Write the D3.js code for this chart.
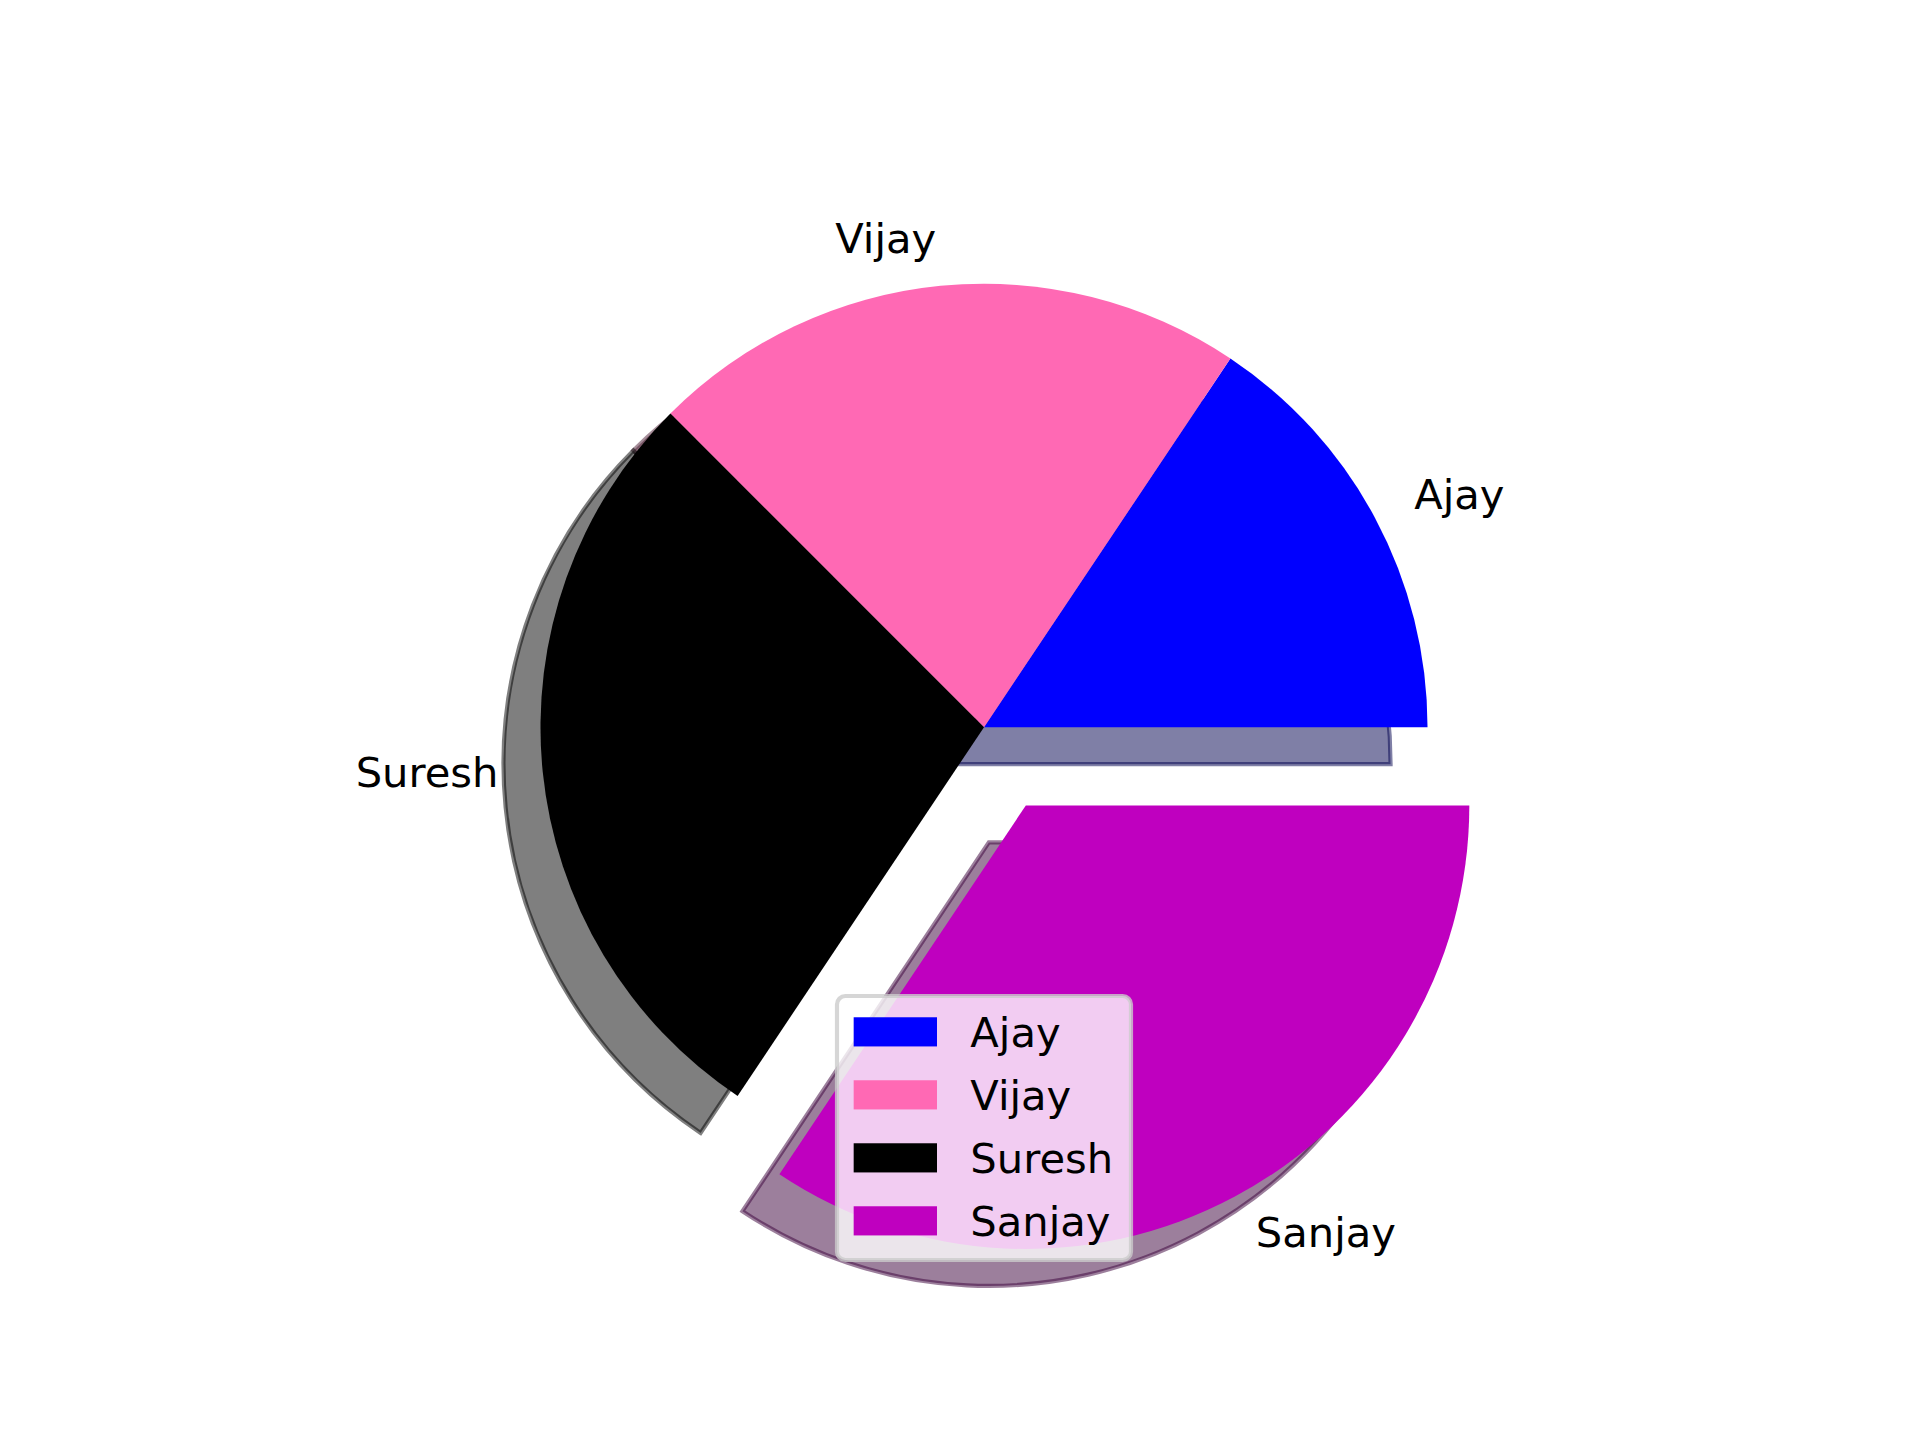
<!DOCTYPE html>
<html>
<head>
<meta charset="utf-8">
<script src="https://cdn.jsdelivr.net/npm/d3@7"></script>
<style>
  html, body { margin: 0; padding: 0; background: #ffffff; }
  svg { display: block; }
  text { font-family: "DejaVu Sans", sans-serif; }
</style>
</head>
<body>
<script>
// ---- data ----
const labels  = ["Ajay", "Vijay", "Suresh", "Sanjay"];
const values  = [5, 7, 9, 11];
const colors  = ["#0000ff", "#ff69b4", "#000000", "#bf00bf"];
const explode = [0, 0, 0, 0.2];

// ---- layout ----
const W = 1920, H = 1440;
const fs = 41.667;                 // 10pt @ 300dpi
const axTop = 172.8, axBottom = 1281.6, axCx = 984;
const half = (axBottom - axTop) / 2;
const x = d3.scaleLinear().domain([-1.25, 1.25]).range([axCx - half, axCx + half]);
const y = d3.scaleLinear().domain([-1.25, 1.25]).range([axBottom, axTop]);
const R = 1.0, labelDist = 1.1, shadowOff = 0.02 * 300 / 72;

const svg = d3.select("body").append("svg").attr("width", W).attr("height", H);
svg.append("rect").attr("width", W).attr("height", H).attr("fill", "#ffffff");

const rPx = x(R) - x(0);
// matplotlib: counter-clockwise from 3 o'clock  -> d3: start at +pi/2, go negative
const pie = d3.pie().sort(null).value(d => d.v)
  .startAngle(Math.PI / 2).endAngle(Math.PI / 2 - 2 * Math.PI);
const rows = labels.map((l, i) => ({ l, v: values[i], c: colors[i], e: explode[i] }));
const arcs = pie(rows);
const arc = d3.arc().innerRadius(0).outerRadius(rPx);

// center in data units for each wedge (explode)
arcs.forEach(a => {
  const mid = (a.startAngle + a.endAngle) / 2;
  a.ux = Math.sin(mid); a.uy = Math.cos(mid);        // data-unit direction (y up)
  a.cx = a.data.e * a.ux; a.cy = a.data.e * a.uy;
});

function shade(c) {
  const k = d3.rgb(c);
  return d3.rgb(k.r * 0.3, k.g * 0.3, k.b * 0.3).formatHex();
}

// shadows (all beneath wedges)
const gShadow = svg.append("g");
arcs.forEach(a => {
  const sc = shade(a.data.c);
  gShadow.append("path")
    .attr("transform", `translate(${x(a.cx - shadowOff)},${y(a.cy - shadowOff)})`)
    .attr("d", arc(a))
    .attr("fill", sc).attr("fill-opacity", 0.5)
    .attr("stroke", sc).attr("stroke-opacity", 0.5)
    .attr("stroke-width", 4.17).attr("stroke-linejoin", "miter");
});

// wedges
const gW = svg.append("g");
arcs.forEach(a => {
  gW.append("path")
    .attr("transform", `translate(${x(a.cx)},${y(a.cy)})`)
    .attr("d", arc(a))
    .attr("fill", a.data.c);
});

// labels
const gL = svg.append("g");
arcs.forEach(a => {
  const xt = a.cx + labelDist * R * a.ux;
  const yt = a.cy + labelDist * R * a.uy;
  gL.append("text")
    .attr("x", x(xt))
    .attr("y", y(yt) + 0.276 * fs)
    .attr("text-anchor", xt > 0 ? "start" : "end")
    .attr("font-size", fs)
    .attr("fill", "#000000")
    .text(a.data.l);
});

// legend
const lx = 837, ly = 996, lw = 294, lh = 264;
const pad = 0.4 * fs, rowStep = 63;
const gLeg = svg.append("g");
gLeg.append("rect")
  .attr("x", lx).attr("y", ly).attr("width", lw).attr("height", lh)
  .attr("rx", 0.2 * fs).attr("ry", 0.2 * fs)
  .attr("fill", "#ffffff").attr("fill-opacity", 0.8)
  .attr("stroke", "#cccccc").attr("stroke-opacity", 0.8).attr("stroke-width", 4.17);
rows.forEach((d, i) => {
  const top = ly + pad + i * rowStep;
  gLeg.append("rect")
    .attr("x", lx + pad).attr("y", top + 4.6)
    .attr("width", 2.0 * fs).attr("height", 0.7 * fs)
    .attr("fill", d.c);
  gLeg.append("text")
    .attr("x", lx + pad + 2.0 * fs + 0.8 * fs)
    .attr("y", top + 34.3)
    .attr("font-size", fs)
    .attr("fill", "#000000")
    .text(d.l);
});
</script>
</body>
</html>
